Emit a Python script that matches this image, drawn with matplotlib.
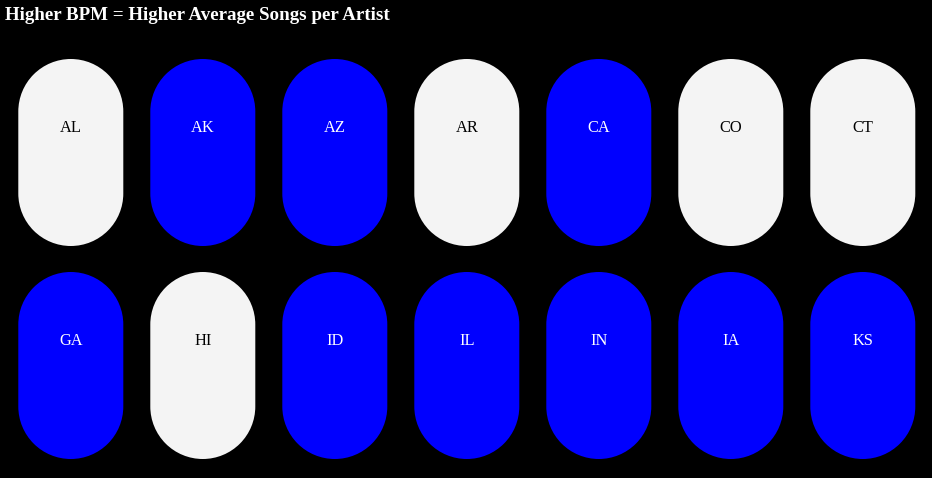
import matplotlib
matplotlib.use('Agg')
import matplotlib.pyplot as plt
import numpy as np
from matplotlib.path import Path
from matplotlib.patches import PathPatch

# states shown, in order, and whether each is in the "higher" group
states = ['AL', 'AK', 'AZ', 'AR', 'CA', 'CO', 'CT',
          'GA', 'HI', 'ID', 'IL', 'IN', 'IA', 'KS']
higher = [False, True, True, False, True, False, False,
          True, False, True, True, True, True, True]
title = 'Higher BPM = Higher Average Songs per Artist'

# colours
blue = '#0000ff'
light = '#f4f4f4'

# layout in pixels
n_cols = 7
x0, y0 = 18.3, 59
pill_w, pill_h = 105, 187
col_step, row_step = 132, 213
label_offset = 69


def pill_path(x, y, w, h):
    # one closed outline: half circle on top, straight sides, half circle below
    r = w / 2
    cx = x + r
    top = Path.arc(180, 360)
    bot = Path.arc(0, 180)
    top_v = top.vertices * r + [cx, y + r]
    bot_v = bot.vertices * r + [cx, y + h - r]
    verts = np.vstack([top_v, bot_v, top_v[:1]])
    codes = np.concatenate([top.codes, [Path.LINETO], bot.codes[1:],
                            [Path.CLOSEPOLY]])
    return Path(verts, codes)


fig = plt.figure(figsize=(9.32, 4.78), dpi=100, facecolor='black')
ax = fig.add_axes([0, 0, 1, 1])
ax.set_facecolor('black')
ax.set_xlim(0, 932)
ax.set_ylim(478, 0)
ax.axis('off')

for i, (st, hi) in enumerate(zip(states, higher)):
    col, row = i % n_cols, i // n_cols
    x = x0 + col * col_step
    y = y0 + row * row_step
    ax.add_patch(PathPatch(pill_path(x, y, pill_w, pill_h),
                           facecolor=blue if hi else light, edgecolor='none'))
    ax.text(x + pill_w / 2, y + label_offset, st, ha='center', va='center',
            color='white' if hi else 'black', fontsize=11.8,
            family='Liberation Serif')

fig.text(5 / 932, 1 - 16 / 478, title, ha='left', va='center', color='white',
         fontsize=13.7, fontweight='bold', family='Liberation Serif')

fig.savefig('out.png', dpi=100, facecolor='black')
